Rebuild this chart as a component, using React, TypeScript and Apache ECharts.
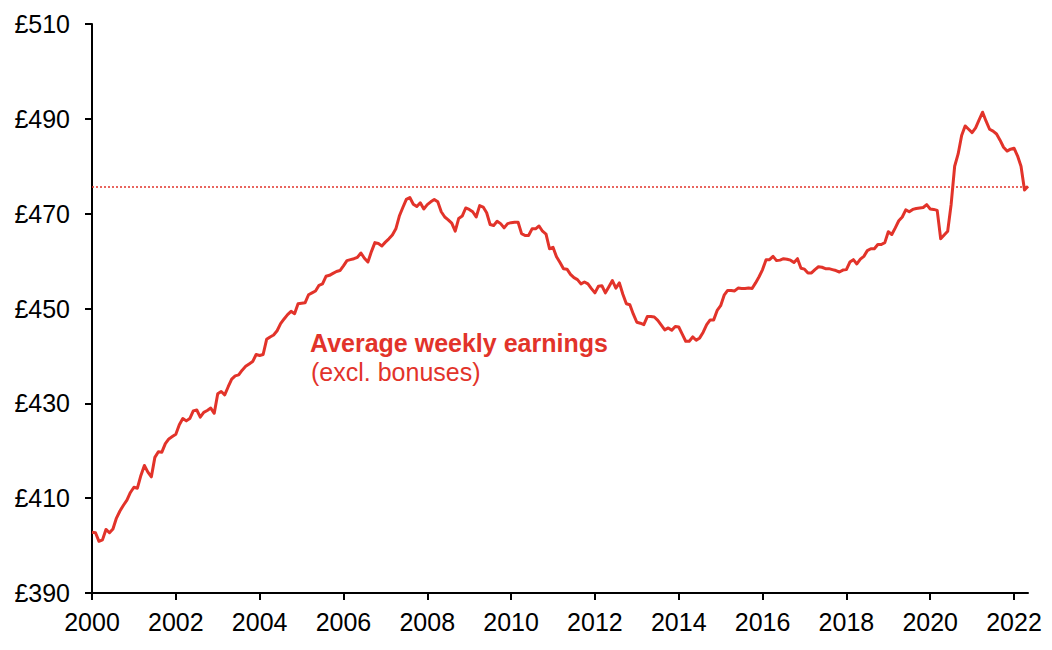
import React, { useEffect, useRef } from "react";
import * as echarts from "echarts";

const START_YEAR = 2000;

// Monthly average weekly earnings (excl. bonuses), £, Jan 2000 – May 2022
const weeklyEarnings: number[] = [
  402.8, 402.7, 400.9, 401.2, 403.4, 402.7, 403.5, 405.8, 407.3, 408.5, 409.6, 411.2,
  412.3, 412.1, 414.8, 416.9, 415.5, 414.5, 418.6, 419.8, 419.7, 421.5, 422.5, 423.0,
  423.5, 425.5, 426.8, 426.3, 426.8, 428.4, 428.6, 427.1, 428.1, 428.5, 429.0, 427.9,
  432.0, 432.5, 431.8, 433.5, 435.1, 435.8, 436.0, 437.0, 437.8, 438.3, 438.8, 440.3,
  440.1, 440.3, 443.5, 444.0, 444.4, 445.3, 446.8, 447.8, 448.7, 449.4, 448.9, 451.0,
  451.1, 451.2, 452.9, 453.3, 453.7, 454.9, 455.2, 456.8, 457.0, 457.4, 457.8, 458.0,
  459.0, 460.1, 460.3, 460.5, 460.8, 461.7, 460.6, 459.8, 462.0, 463.9, 463.7, 463.2,
  464.0, 464.7, 465.5, 466.8, 469.5, 471.3, 473.0, 473.4, 472.0, 471.5, 472.3, 471.0,
  471.9, 472.5, 473.0, 472.5, 470.4, 469.3, 468.7, 468.0, 466.3, 469.0, 469.5, 471.2,
  470.9, 470.4, 469.3, 471.7, 471.4, 470.2, 467.7, 467.5, 468.4, 467.9, 467.0, 467.9,
  468.1, 468.2, 468.2, 465.8, 465.4, 465.4, 466.8, 466.8, 467.4, 466.3, 465.7, 462.6,
  462.9, 460.9, 459.7, 458.4, 458.3, 457.2, 456.5, 456.1, 455.2, 455.6, 455.2, 454.2,
  453.3, 454.7, 454.8, 453.3, 454.6, 455.9, 454.3, 455.4, 453.0, 451.0, 450.8, 448.8,
  447.1, 446.9, 446.6, 448.3, 448.3, 448.2, 447.5, 446.5, 445.5, 445.9, 445.4, 446.2,
  446.1, 444.6, 443.1, 443.1, 444.0, 443.3, 443.8, 445.0, 446.6, 447.6, 447.6, 449.6,
  450.6, 452.8, 453.8, 453.8, 453.7, 454.3, 454.2, 454.2, 454.3, 454.2, 455.4, 456.7,
  458.2, 460.3, 460.3, 461.0, 460.1, 460.2, 460.5, 460.4, 460.2, 459.7, 460.5, 458.5,
  458.3, 457.5, 457.5, 458.2, 458.8, 458.7, 458.4, 458.4, 458.2, 458.0, 457.7, 458.1,
  458.2, 459.8, 460.3, 459.4, 460.4, 461.0, 462.2, 462.6, 462.6, 463.5, 463.5, 463.9,
  466.2, 465.6, 467.0, 468.5, 469.3, 470.8, 470.4, 470.9, 471.1, 471.2, 471.3, 471.9,
  471.0, 470.9, 470.7, 464.7, 465.5, 466.3, 472.0, 480.0, 482.6, 486.5, 488.5, 487.8,
  487.1, 488.1, 489.8, 491.4, 489.5, 487.8, 487.4, 486.8, 485.5, 484.0, 483.2, 483.6,
  483.8, 482.2, 480.0, 475.0, 475.8,
];

const referenceLevel = 475.6;
const xTickYears = [2000, 2002, 2004, 2006, 2008, 2010, 2012, 2014, 2016, 2018, 2020, 2022];
const yMin = 390;
const yMax = 510;
const yStep = 20;
const seriesLabel = "Average weekly earnings";
const seriesSubLabel = "(excl. bonuses)";

const RED = "#E2332A";
const FONT = '"Liberation Sans", Arial, sans-serif';

export default function App() {
  const ref = useRef<HTMLDivElement>(null);

  useEffect(() => {
    if (!ref.current) return;
    const chart = echarts.init(ref.current, null, { renderer: "svg" });
    const points = weeklyEarnings.map((v, i) => [START_YEAR + i / 12, v]);
    const xMax = START_YEAR + (weeklyEarnings.length - 1) / 12;

    chart.setOption({
      animation: false,
      backgroundColor: "#ffffff",
      grid: { left: 92, right: 24, top: 24, bottom: 57 },
      xAxis: {
        type: "value",
        min: START_YEAR,
        max: xMax,
        interval: 2,
        axisLine: { show: true, onZero: false, lineStyle: { color: "#000", width: 2 } },
        axisTick: {
          show: true,
          length: 7,
          lineStyle: { color: "#000", width: 2 },
          customValues: xTickYears,
        },
        axisLabel: {
          customValues: xTickYears,
          fontSize: 25,
          fontFamily: FONT,
          color: "#000",
          margin: 16,
          formatter: (v: number) => (Number.isInteger(v) ? String(v) : ""),
        },
        splitLine: { show: false },
      },
      yAxis: {
        type: "value",
        min: yMin,
        max: yMax,
        interval: yStep,
        axisLine: { show: true, onZero: false, lineStyle: { color: "#000", width: 2 } },
        axisTick: { show: true, length: 7, lineStyle: { color: "#000", width: 2 } },
        axisLabel: {
          fontSize: 25,
          fontFamily: FONT,
          color: "#000",
          margin: 22,
          formatter: (v: number) => "£" + v,
        },
        splitLine: { show: false },
      },
      series: [
        {
          type: "line",
          name: seriesLabel,
          data: points,
          showSymbol: false,
          symbol: "none",
          lineStyle: { color: RED, width: 3, join: "round" },
          z: 3,
          markLine: {
            silent: true,
            symbol: ["none", "none"],
            label: { show: false },
            lineStyle: { color: RED, width: 1.5, type: [2, 2] },
            data: [{ yAxis: referenceLevel }],
            z: 1,
          },
        },
      ],
      graphic: [
        {
          type: "text",
          left: 310,
          top: 330,
          style: {
            text: seriesLabel,
            font: `bold 25px ${FONT}`,
            fill: RED,
          },
        },
        {
          type: "text",
          left: 311,
          top: 359,
          style: {
            text: seriesSubLabel,
            font: `25px ${FONT}`,
            fill: RED,
          },
        },
      ],
    });

    return () => chart.dispose();
  }, []);

  return (
    <div
      ref={ref}
      style={{ position: "fixed", left: 0, top: 0, width: 1052, height: 650 }}
    />
  );
}
